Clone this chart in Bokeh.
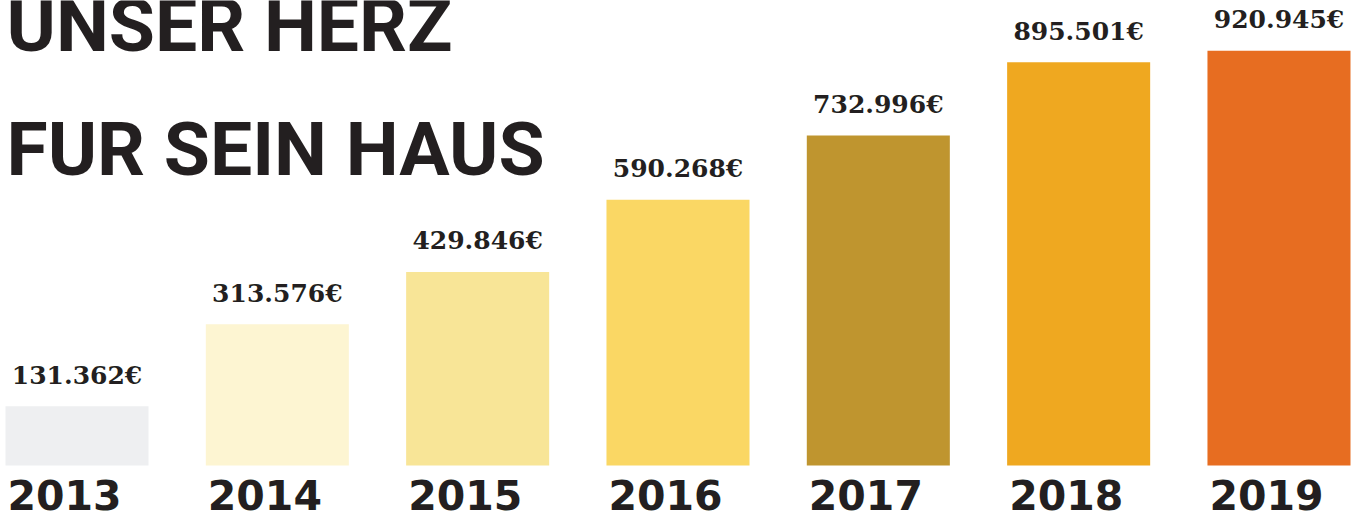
from bokeh.plotting import figure
from bokeh.models import ColumnDataSource, Range1d, Label
from bokeh.embed import file_html
from bokeh.resources import INLINE
from bokeh.core.properties import value

# ---- data ----
years = [2013, 2014, 2015, 2016, 2017, 2018, 2019]
amounts = [131362, 313576, 429846, 590268, 732996, 895501, 920945]
colors = ["#eeeff1", "#fdf5d2", "#f8e597", "#fad764", "#bf952f", "#efa820", "#e76d21"]
title_lines = ["UNSER HERZ", "FUR SEIN HAUS"]

amount_labels = [f"{v:,}".replace(",", ".") + "€" for v in amounts]
year_labels = [str(y) for y in years]

W, H = 1357, 516
px_per_year = 200.33
x0 = 2013 - 76.5 / px_per_year
px_per_eur = 0.4503 / 1000.0
y0 = -51 / px_per_eur

bar_w = 0.714

src = ColumnDataSource(dict(
    x=years, top=amounts, color=colors, lab=amount_labels, yl=year_labels,
    xl=[y - bar_w / 2 for y in years], zero=[0] * len(years),
))

p = figure(width=W, height=H, output_backend="svg", toolbar_location=None,
           x_range=Range1d(x0, x0 + W / px_per_year),
           y_range=Range1d(y0, y0 + H / px_per_eur),
           min_border=0, outline_line_color=None,
           background_fill_color="white", border_fill_color="white")
p.axis.visible = False
p.grid.visible = False

p.vbar(x="x", top="top", bottom=0, width=bar_w, color="color", line_color=None, source=src)

p.text(x="x", y="top", text="lab", source=src, text_align="center",
       text_baseline="alphabetic", y_offset=-31,
       text_font=value("DejaVu Serif"), text_font_style="bold",
       text_font_size="25px", text_color="#231f20")

p.text(x="xl", y="zero", text="yl", source=src, text_align="left",
       text_baseline="alphabetic", x_offset=2, y_offset=29,
       text_font=value("DejaVu Sans"), text_font_style="bold",
       text_font_size="41px", text_color="#231f20")

title_font = "Roboto"
for txt, ys in zip(title_lines, [492, 368]):
    p.add_layout(Label(x=6, y=ys, x_units="screen", y_units="screen", text=txt,
                       text_font=title_font, text_font_style="bold",
                       text_font_size="75px", text_color="#231f20",
                       text_baseline="alphabetic", text_align="left"))

open("out.html", "w").write(file_html(p, INLINE))
